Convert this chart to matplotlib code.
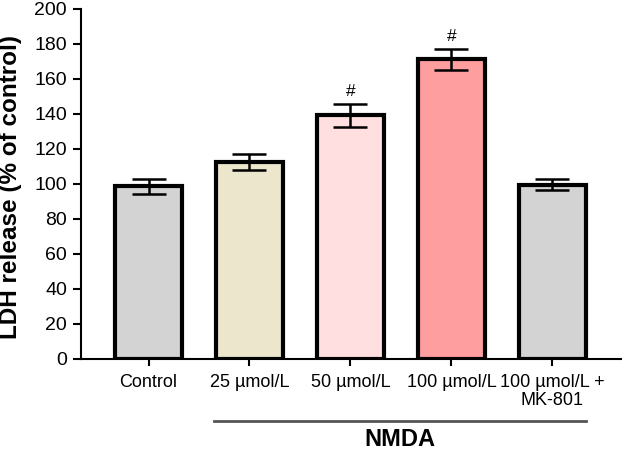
import matplotlib
matplotlib.use('Agg')
import matplotlib.pyplot as plt
import matplotlib.transforms as mtransforms
import numpy as np

plt.rcParams['font.family'] = ['Liberation Sans', 'DejaVu Sans']

# data
groups = ['Control', '25 µmol/L', '50 µmol/L', '100 µmol/L', '100 µmol/L +\nMK-801']
ldh = [98.6, 112.4, 139.0, 171.0, 99.5]
ldh_err = [4.4, 4.7, 6.8, 6.2, 3.2]
marks = ['', '', '#', '#', '']
bar_colors = ['#d3d3d3', '#ebe6cc', '#ffdfe0', '#ff9e9f', '#d3d3d3']
y_ticks = [0, 20, 40, 60, 80, 100, 120, 140, 160, 180, 200]

fig = plt.figure(figsize=(6.22, 4.51), dpi=100)
ax = fig.add_axes([0.13, 0.204, 0.87, 0.777])

x = np.arange(len(groups))
ax.bar(x, ldh, width=0.67, color=bar_colors, edgecolor='black', linewidth=3, zorder=2)
ax.errorbar(x, ldh, yerr=ldh_err, fmt='none', ecolor='black', elinewidth=1.8,
            capsize=12, capthick=1.8, zorder=3)

# significance marks above the error bars
for xi, v, e, m in zip(x, ldh, ldh_err, marks):
    if m:
        ax.text(xi, v + e + 2.5, m, ha='center', va='bottom', fontsize=12.5)

ax.set_xlim(-0.67, 4.69)
ax.set_ylim(0, 200)
ax.set_yticks(y_ticks)
ax.set_xticks(x)
ax.set_xticklabels(groups, fontsize=13, linespacing=1.05)
ax.tick_params(axis='y', labelsize=14, length=6, width=1.5, pad=4)
ax.tick_params(axis='x', length=5, width=1.5, pad=6)

for s in ['top', 'right']:
    ax.spines[s].set_visible(False)
for s in ['left', 'bottom']:
    ax.spines[s].set_linewidth(1.5)

ax.set_ylabel('LDH release (% of control)', fontsize=17.5, fontweight='bold')
ax.yaxis.set_label_coords(-0.108, 0.49)

# NMDA bracket line under the treated groups
trans = mtransforms.blended_transform_factory(ax.transData, ax.transAxes)
ax.plot([0.65, 4.33], [-0.178, -0.178], color='#555555', linewidth=2,
        transform=trans, clip_on=False)
ax.text(2.49, -0.23, 'NMDA', transform=trans, ha='center', va='center',
        fontsize=17, fontweight='bold')

fig.savefig('out.png', dpi=100)
